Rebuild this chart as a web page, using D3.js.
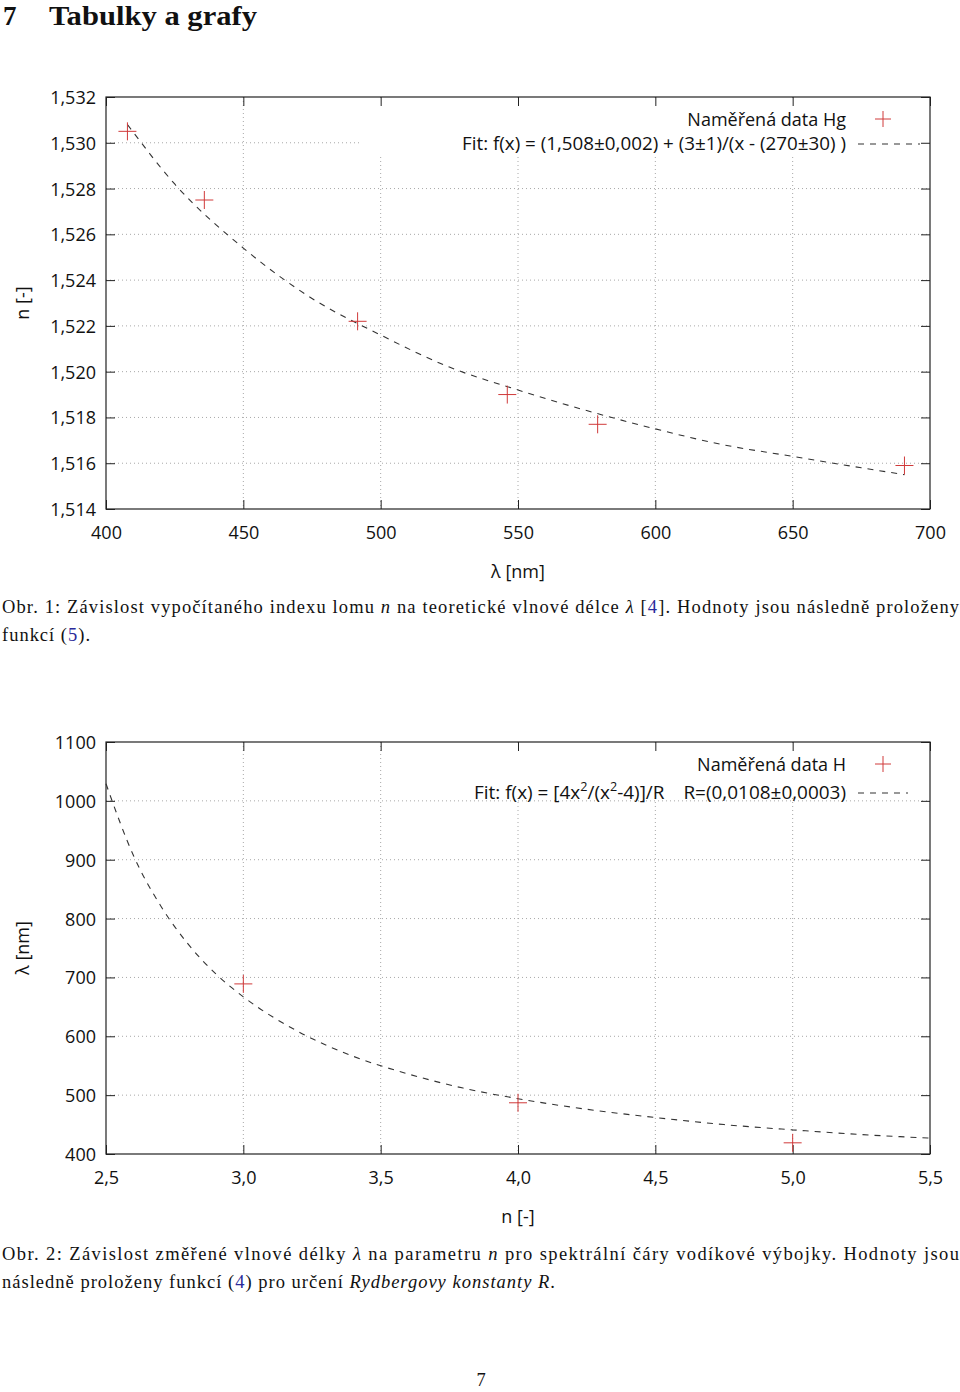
<!DOCTYPE html>
<html>
<head>
<meta charset="utf-8">
<script src="https://cdn.jsdelivr.net/npm/d3@7"></script>
<style>
  html, body { margin: 0; padding: 0; background: #fff; }
  svg { display: block; }
  .tick text { font-family: "Open Sans", sans-serif; font-size: 18px; fill: #111; }
  .lbl { font-family: "Open Sans", sans-serif; font-size: 18px; fill: #111; }
  .cap { font-family: "Liberation Serif", "DejaVu Serif", serif; font-size: 18.5px; fill: #111; }
</style>
</head>
<body>
<svg id="page" width="960" height="1392"></svg>
<script>
// ---------- Chart 1 data (Hg) ----------
const hgWavelength = [407.8, 435.8, 491.6, 546.1, 579.0, 690.7];
const hgIndex      = [1.5305, 1.5275, 1.5222, 1.5190, 1.5177, 1.5159];
const hgFitWavelength = [407.8, 425, 450, 475, 500, 525, 550, 575, 600, 625, 650, 675, 690.7];
const hgFitIndex      = [1.5308, 1.5282, 1.5254, 1.5232, 1.5216, 1.5202, 1.5192, 1.5183, 1.5175, 1.5168, 1.5163, 1.5158, 1.5155];
const hgXTicks = [400, 450, 500, 550, 600, 650, 700];
const hgYTicks = [1.514, 1.516, 1.518, 1.520, 1.522, 1.524, 1.526, 1.528, 1.530, 1.532];

// ---------- Chart 2 data (H) ----------
const hN      = [3.0, 4.0, 5.0];
const hLambda = [689, 487, 419];
const hFitN      = [2.5, 2.6, 2.7, 2.8, 2.9, 3.0, 3.2, 3.4, 3.6, 3.8, 4.0, 4.25, 4.5, 4.75, 5.0, 5.25, 5.5];
const hFitLambda = [1029, 907, 821, 756, 706, 667, 608, 566, 536, 512, 494, 476, 462, 450, 441, 433, 427];
const hXTicks = [2.5, 3.0, 3.5, 4.0, 4.5, 5.0, 5.5];
const hYTicks = [400, 500, 600, 700, 800, 900, 1000, 1100];

const loc = d3.formatLocale({decimal: ",", thousands: "", grouping: [3], currency: ["", ""]});

const svg = d3.select("#page");

function drawChart(o) {
  const g = svg.append("g");
  const x = d3.scaleLinear().domain(o.xDomain).range([o.left, o.right]);
  const y = d3.scaleLinear().domain(o.yDomain).range([o.bottom, o.top]);
  const gridCol = "#a8a8a8";

  // grid
  g.append("g").selectAll("line").data(o.xTicks.slice(1, -1)).join("line")
    .attr("x1", d => x(d)).attr("x2", d => x(d))
    .attr("y1", o.top).attr("y2", o.bottom)
    .attr("stroke", gridCol).attr("stroke-width", 1).attr("stroke-dasharray", "1,3");
  g.append("g").selectAll("line").data(o.yTicks.slice(1, -1)).join("line")
    .attr("x1", o.left).attr("x2", o.right)
    .attr("y1", d => y(d)).attr("y2", d => y(d))
    .attr("stroke", gridCol).attr("stroke-width", 1).attr("stroke-dasharray", "1,3");

  // legend white box
  g.append("rect").attr("x", o.keyBox[0]).attr("y", o.keyBox[1])
    .attr("width", o.keyBox[2]).attr("height", o.keyBox[3]).attr("fill", "#fff");

  // axes (inward ticks)
  const ax = g.append("g").attr("transform", `translate(0,${o.bottom})`)
    .call(d3.axisBottom(x).tickValues(o.xTicks).tickFormat(o.xFmt).tickSize(-9).tickPadding(17));
  const axT = g.append("g").attr("transform", `translate(0,${o.top})`)
    .call(d3.axisTop(x).tickValues(o.xTicks).tickFormat("").tickSize(-9));
  const ay = g.append("g").attr("transform", `translate(${o.left},0)`)
    .call(d3.axisLeft(y).tickValues(o.yTicks).tickFormat(o.yFmt).tickSize(-9).tickPadding(10));
  const ayR = g.append("g").attr("transform", `translate(${o.right},0)`)
    .call(d3.axisRight(y).tickValues(o.yTicks).tickFormat("").tickSize(-9));
  [ax, axT, ay, ayR].forEach(a => {
    a.select(".domain").remove();
    a.selectAll(".tick line").attr("stroke", "#222").attr("stroke-width", 1);
  });
  ay.selectAll(".tick text").attr("dy", "0.36em");

  // frame
  g.append("rect").attr("x", o.left).attr("y", o.top)
    .attr("width", o.right - o.left).attr("height", o.bottom - o.top)
    .attr("fill", "none").attr("stroke", "#222").attr("stroke-width", 1.2);

  // fit curve
  const fitPts = o.fitX.map((d, i) => [d, o.fitY[i]]);
  g.append("path").datum(fitPts)
    .attr("d", d3.line().x(d => x(d[0])).y(d => y(d[1])).curve(d3.curveMonotoneX))
    .attr("fill", "none").attr("stroke", "#333").attr("stroke-width", 1.1)
    .attr("stroke-dasharray", "6,6");

  // data points
  const pts = o.dataX.map((d, i) => [d, o.dataY[i]]);
  const pg = g.append("g").selectAll("g").data(pts).join("g")
    .attr("transform", d => `translate(${x(d[0])},${y(d[1])})`);
  pg.append("line").attr("x1", -9).attr("x2", 9).attr("y1", 0).attr("y2", 0);
  pg.append("line").attr("x1", 0).attr("x2", 0).attr("y1", -9).attr("y2", 9);
  pg.selectAll("line").attr("stroke", "#d03a3a").attr("stroke-width", 1);

  // axis titles
  g.append("text").attr("class", "lbl").attr("x", (o.left + o.right) / 2).attr("y", o.xTitleY)
    .attr("text-anchor", "middle").text(o.xTitle);
  g.append("text").attr("class", "lbl")
    .attr("transform", `translate(29,${o.yTitleY}) rotate(-90)`)
    .attr("text-anchor", "middle").text(o.yTitle);

  // legend
  g.append("text").attr("class", "lbl").attr("x", 846).attr("y", o.key1Y)
    .attr("text-anchor", "end").text(o.key1);
  const kp = g.append("g").attr("transform", `translate(883,${o.key1Y - 7})`);
  kp.append("line").attr("x1", -8).attr("x2", 8).attr("y1", 0).attr("y2", 0);
  kp.append("line").attr("x1", 0).attr("x2", 0).attr("y1", -8).attr("y2", 8);
  kp.selectAll("line").attr("stroke", "#d03a3a").attr("stroke-width", 1);

  const k2 = g.append("text").attr("class", "lbl").attr("x", o.key2X).attr("y", o.key2Y)
    .attr("textLength", 846 - o.key2X).attr("lengthAdjust", "spacingAndGlyphs");
  o.key2(k2);
  g.append("line").attr("x1", 858).attr("x2", o.key2LineEnd)
    .attr("y1", o.key2Y - 6).attr("y2", o.key2Y - 6)
    .attr("stroke", "#333").attr("stroke-width", 1.1).attr("stroke-dasharray", "6,6");
}

// Heading
svg.append("text").attr("x", 3).attr("y", 25)
  .attr("font-family", "Liberation Serif, DejaVu Serif, serif").attr("font-weight", "bold")
  .attr("font-size", 27).attr("fill", "#111").text("7");
svg.append("text").attr("x", 49).attr("y", 25)
  .attr("font-family", "Liberation Serif, DejaVu Serif, serif").attr("font-weight", "bold")
  .attr("font-size", 27).attr("fill", "#111")
  .attr("textLength", 208).attr("lengthAdjust", "spacingAndGlyphs").text("Tabulky a grafy");

drawChart({
  left: 106, right: 930, top: 97, bottom: 509,
  xDomain: [400, 700], yDomain: [1.514, 1.532],
  xTicks: hgXTicks, yTicks: hgYTicks,
  xFmt: loc.format("d"), yFmt: loc.format(".3f"),
  dataX: hgWavelength, dataY: hgIndex,
  fitX: hgFitWavelength, fitY: hgFitIndex,
  keyBox: [361, 98, 568, 57],
  xTitle: "λ [nm]", xTitleY: 578,
  yTitle: "n [-]", yTitleY: 303,
  key1: "Naměřená data Hg", key1Y: 126,
  key2X: 462,
  key2: t => t.text("Fit: f(x) = (1,508±0,002) + (3±1)/(x - (270±30) )"),
  key2Y: 150, key2LineEnd: 920
});

drawChart({
  left: 106, right: 930, top: 742, bottom: 1154,
  xDomain: [2.5, 5.5], yDomain: [400, 1100],
  xTicks: hXTicks, yTicks: hYTicks,
  xFmt: loc.format(".1f"), yFmt: loc.format("d"),
  dataX: hN, dataY: hLambda,
  fitX: hFitN, fitY: hFitLambda,
  keyBox: [462, 743, 467, 52],
  xTitle: "n [-]", xTitleY: 1223,
  yTitle: "λ [nm]", yTitleY: 948,
  key1: "Naměřená data H", key1Y: 771,
  key2X: 474,
  key2: t => {
    t.append("tspan").text("Fit: f(x) = [4x");
    t.append("tspan").attr("dy", -8).attr("font-size", 12).text("2");
    t.append("tspan").attr("dy", 8).text("/(x");
    t.append("tspan").attr("dy", -8).attr("font-size", 12).text("2");
    t.append("tspan").attr("dy", 8).text("-4)]/R");
    t.append("tspan").attr("dx", 18).text("R=(0,0108±0,0003)");
  },
  key2Y: 799, key2LineEnd: 908
});

// Captions
function caption(yPos, parts, len) {
  const t = svg.append("text").attr("class", "cap").attr("x", 2).attr("y", yPos);
  if (len) t.attr("textLength", len).attr("lengthAdjust", "spacing");
  parts.forEach(p => {
    const s = t.append("tspan").text(p.t);
    if (p.i) s.attr("font-style", "italic");
    if (p.b) s.attr("fill", "#2a2a9a");
  });
}
caption(613, [
  {t: "Obr. 1: Závislost vypočítaného indexu lomu "}, {t: "n", i: 1},
  {t: " na teoretické vlnové délce "}, {t: "λ", i: 1}, {t: " ["}, {t: "4", b: 1},
  {t: "]. Hodnoty jsou následně proloženy"}], 957);
caption(641, [{t: "funkcí ("}, {t: "5", b: 1}, {t: ")."}], 88);
caption(1260, [
  {t: "Obr. 2: Závislost změřené vlnové délky "}, {t: "λ", i: 1},
  {t: " na parametru "}, {t: "n", i: 1},
  {t: " pro spektrální čáry vodíkové výbojky. Hodnoty jsou"}], 957);
caption(1288, [
  {t: "následně proloženy funkcí ("}, {t: "4", b: 1}, {t: ") pro určení "},
  {t: "Rydbergovy konstanty R", i: 1}, {t: "."}], 553);

// Page number
svg.append("text").attr("class", "cap").attr("x", 481).attr("y", 1386)
  .attr("text-anchor", "middle").text("7");
</script>
</body>
</html>
